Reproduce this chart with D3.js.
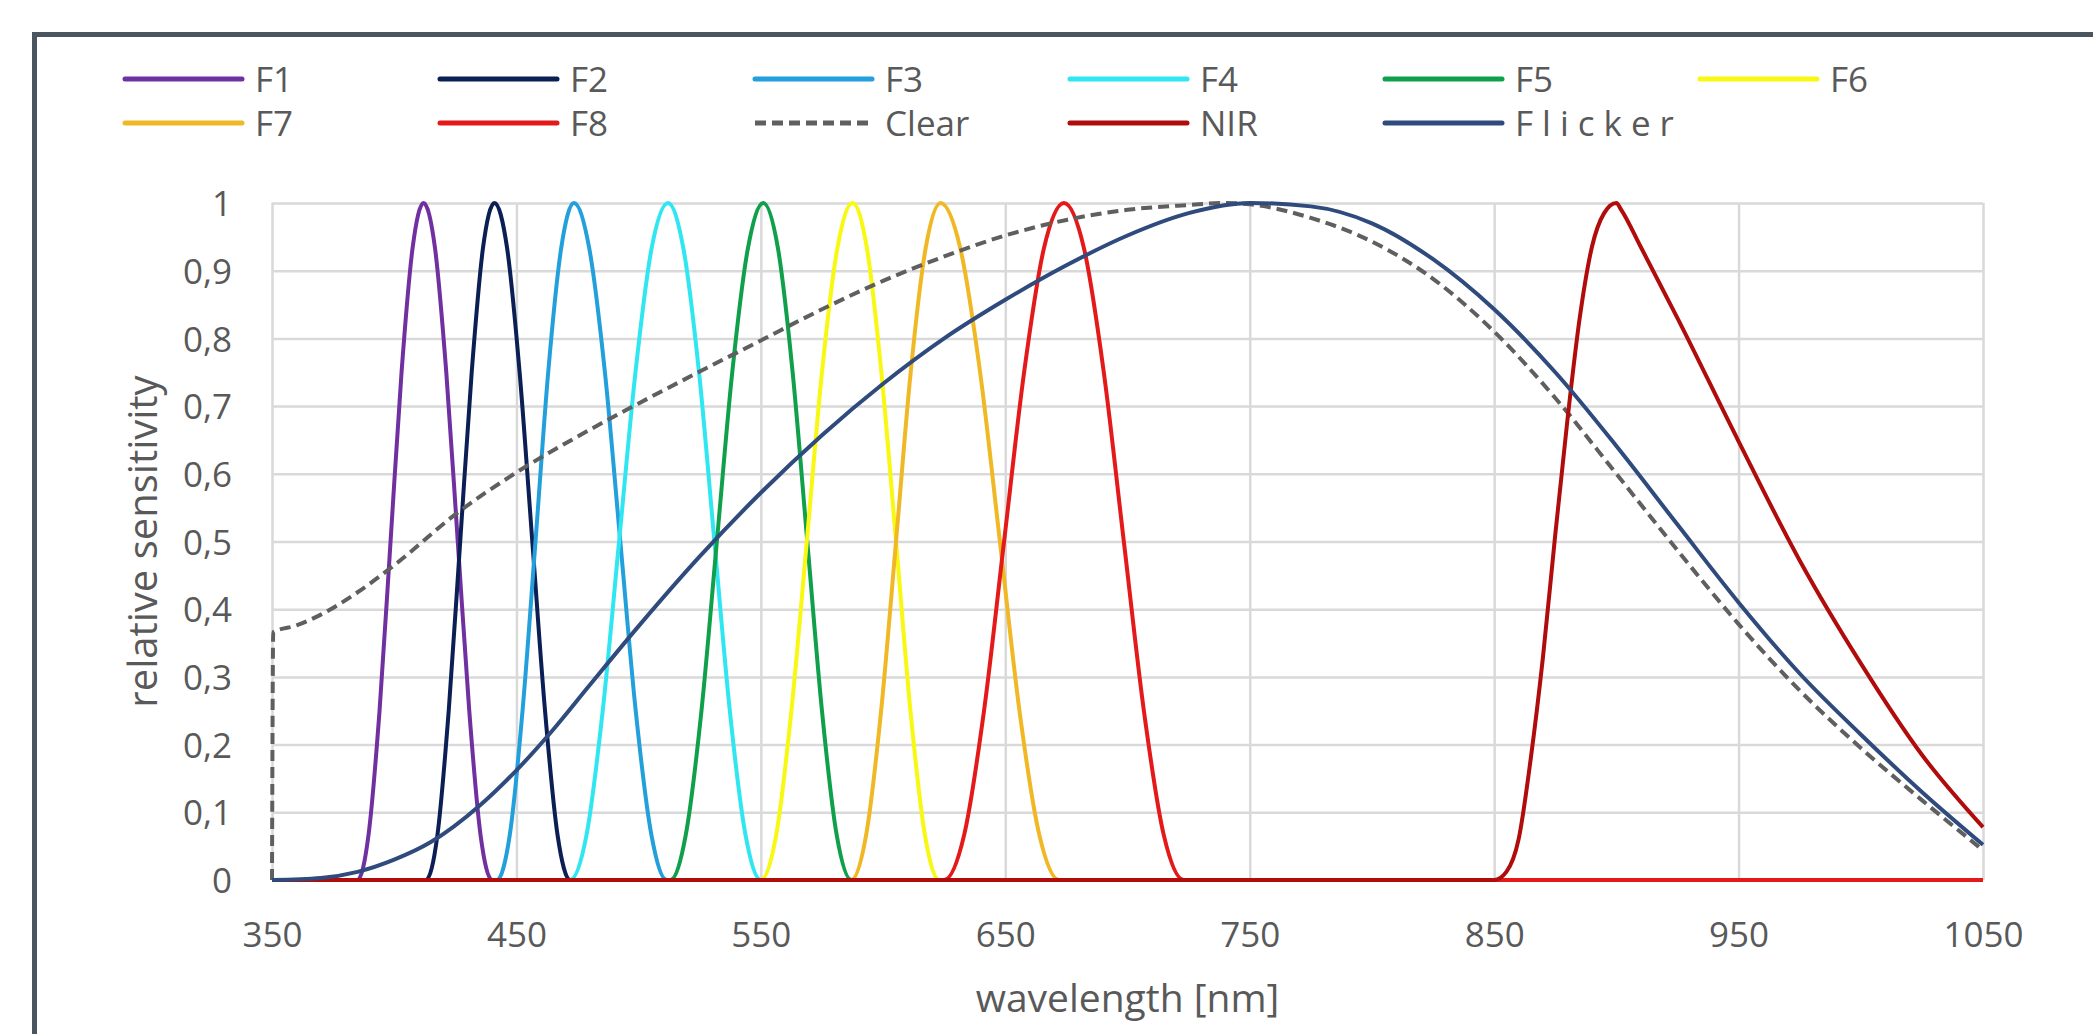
<!DOCTYPE html>
<html>
<head>
<meta charset="utf-8">
<script src="https://cdn.jsdelivr.net/npm/d3@7"></script>
<style>
	body { margin: 0; background: #ffffff; }
</style>
</head>
<body>
<div id="demo"></div>
<script>

	// 目盛りのデータ
	var xTicks = [350, 450, 550, 650, 750, 850, 950, 1050];
	var xTickLabels = ['350', '450', '550', '650', '750', '850', '950', '1050'];
	var yTicks = [0, 0.1, 0.2, 0.3, 0.4, 0.5, 0.6, 0.7, 0.8, 0.9, 1];
	var yTickLabels = ['0', '0,1', '0,2', '0,3', '0,4', '0,5', '0,6', '0,7', '0,8', '0,9', '1'];

	// 凡例のデータ（描画順）
	var seriesNames = ['F1', 'F2', 'F3', 'F4', 'F5', 'F6', 'F7', 'F8', 'Clear', 'NIR', 'Flicker'];
	var seriesColors = ['#7030a0', '#0b1f55', '#23a0dc', '#30e6f0', '#10a04c', '#f8f812', '#f0b824', '#e41a1a', '#5f5f5f', '#b00c0c', '#2f4a7c'];

	// フィルタ F1〜F8 の波長（左の立ち上がり → ピーク → 右の終わり）
	var f1Wl = [385, 389.5, 394, 398.5, 403, 407.5, 412, 416.7, 421.3, 426, 430.7, 435.3, 440];
	var f2Wl = [413, 417.7, 422.3, 427, 431.7, 436.3, 441, 446.2, 451.3, 456.5, 461.7, 466.8, 472];
	var f3Wl = [442, 447.3, 452.5, 457.8, 463, 468.3, 473.5, 479.8, 486.2, 492.5, 498.8, 505.2, 511.5];
	var f4Wl = [472, 478.7, 485.3, 492, 498.7, 505.3, 512, 518.3, 524.7, 531, 537.3, 543.7, 550];
	var f5Wl = [513, 519.3, 525.7, 532, 538.3, 544.7, 551, 557, 563, 569, 575, 581, 587];
	var f6Wl = [550, 556.3, 562.5, 568.8, 575, 581.3, 587.5, 593.4, 599.3, 605.3, 611.2, 617.1, 623];
	var f7Wl = [587, 593.1, 599.2, 605.3, 611.3, 617.4, 623.5, 631.6, 639.7, 647.8, 655.8, 663.9, 672];
	var f8Wl = [625, 633.2, 641.3, 649.5, 657.7, 665.8, 674, 682.2, 690.3, 698.5, 706.7, 714.8, 723];
	// フィルタの感度（どのフィルタも同じ形）
	var filterVal = [0, 0.067, 0.25, 0.5, 0.75, 0.933, 1, 0.933, 0.75, 0.5, 0.25, 0.067, 0];

	// Clear
	var clearWl = [350, 350.5, 360, 370, 385, 400, 425, 450, 475, 500, 525, 550, 575, 600, 625, 650, 675, 700, 725, 740, 750, 775, 800, 825, 850, 875, 900, 925, 950, 975, 1000, 1025, 1050];
	var clearVal = [0, 0.366, 0.376, 0.392, 0.425, 0.465, 0.54, 0.602, 0.655, 0.704, 0.751, 0.797, 0.843, 0.885, 0.921, 0.952, 0.975, 0.99, 0.997, 1, 0.998, 0.978, 0.943, 0.888, 0.81, 0.712, 0.6, 0.487, 0.378, 0.28, 0.195, 0.118, 0.044];

	// NIR
	var nirWl = [350, 850, 855, 860, 865, 870, 875, 880, 885, 890, 895, 900, 902, 910, 925, 950, 975, 1000, 1025, 1050];
	var nirVal = [0, 0, 0.012, 0.06, 0.18, 0.33, 0.51, 0.68, 0.83, 0.935, 0.985, 1, 0.99, 0.935, 0.83, 0.648, 0.472, 0.32, 0.185, 0.078];

	// Flicker
	var flickerWl = [350, 370, 385, 400, 415, 435, 450, 465, 480, 500, 525, 550, 575, 600, 625, 650, 675, 700, 725, 750, 775, 800, 825, 850, 875, 900, 925, 950, 975, 1000, 1025, 1050];
	var flickerVal = [0, 0.003, 0.012, 0.03, 0.056, 0.11, 0.162, 0.222, 0.288, 0.375, 0.478, 0.572, 0.657, 0.733, 0.8, 0.857, 0.908, 0.952, 0.985, 1, 0.995, 0.97, 0.917, 0.843, 0.75, 0.641, 0.525, 0.41, 0.305, 0.215, 0.13, 0.052];


	// 波長と値の配列を点の配列にする
	function toPoints(wl, val) {
		return wl.map(function(w, i) { return [w, val[i]]; });
	}
	function filterPoints(wl) {
		return [[350, 0]].concat(toPoints(wl, filterVal)).concat([[1050, 0]]);
	}

	var dataset = [
		filterPoints(f1Wl),
		filterPoints(f2Wl),
		filterPoints(f3Wl),
		filterPoints(f4Wl),
		filterPoints(f5Wl),
		filterPoints(f6Wl),
		filterPoints(f7Wl),
		filterPoints(f8Wl),
		toPoints(clearWl, clearVal),
		toPoints(nirWl, nirVal),
		toPoints(flickerWl, flickerVal)
	].map(function(pts, i) {
		return {'name': seriesNames[i], 'color': seriesColors[i], 'points': pts};
	});

	var fontFamily = "'Open Sans', 'Noto Sans', sans-serif";
	var textColor = '#595959';

	// SVGタグを作成する
	var svg = d3.select('#demo').append('svg')
		.attr('width', 2093)
		.attr('height', 1034)
		.style('display', 'block');

	// 外枠（上と左だけ見える）
	svg.append('rect')
		.attr('x', 34.5)
		.attr('y', 34.5)
		.attr('width', 2300)
		.attr('height', 1200)
		.attr('fill', 'none')
		.attr('stroke', '#4b5560')
		.attr('stroke-width', 5)
		;

	// スケール
	var x = d3.scaleLinear().domain([350, 1050]).range([272, 1983]);
	var y = d3.scaleLinear().domain([0, 1]).range([880, 203]);

	// グリッド線
	svg.append('g')
		.attr('transform', 'translate(0,880)')
		.call(d3.axisBottom(x).tickValues(xTicks).tickSize(-(880 - 203)).tickFormat(''))
		.call(function(g) { g.select('.domain').remove(); })
		.selectAll('line')
		.attr('stroke', '#d9d9d9')
		.attr('stroke-width', 2.5)
		;
	svg.append('g')
		.attr('transform', 'translate(272,0)')
		.call(d3.axisLeft(y).tickValues(yTicks).tickSize(-(1983 - 272)).tickFormat(''))
		.call(function(g) { g.select('.domain').remove(); })
		.selectAll('line')
		.attr('stroke', '#d9d9d9')
		.attr('stroke-width', 2.5)
		;

	// 軸ラベル
	var xAxis = svg.append('g')
		.attr('transform', 'translate(0,880)')
		.call(d3.axisBottom(x).tickValues(xTicks).tickSize(0).tickPadding(42)
			.tickFormat(function(d, i) { return xTickLabels[i]; }));
	var yAxis = svg.append('g')
		.attr('transform', 'translate(272,0)')
		.call(d3.axisLeft(y).tickValues(yTicks).tickSize(0).tickPadding(40)
			.tickFormat(function(d, i) { return yTickLabels[i]; }));
	[xAxis, yAxis].forEach(function(ax) {
		ax.select('.domain').remove();
		ax.attr('font-family', fontFamily)
			.attr('font-size', 35)
			.attr('color', textColor);
	});
	yAxis.selectAll('text').attr('dy', '0.36em');

	// 軸タイトル
	svg.append('text')
		.attr('x', (272 + 1983) / 2)
		.attr('y', 1012)
		.attr('text-anchor', 'middle')
		.attr('font-family', fontFamily)
		.attr('font-size', 39)
		.attr('fill', textColor)
		.text('wavelength [nm]');
	svg.append('text')
		.attr('transform', 'translate(157,' + (203 + 880) / 2 + ') rotate(-90)')
		.attr('text-anchor', 'middle')
		.attr('font-family', fontFamily)
		.attr('font-size', 40)
		.attr('fill', textColor)
		.text('relative sensitivity');

	// line変換関数
	var lineArrToD = d3.line()
		.curve(d3.curveMonotoneX)
		.x(function(d) { return x(d[0]); })
		.y(function(d) { return y(d[1]); });

	// 線（path）を追加する
	svg.selectAll('.series')
		.data(dataset)
		.enter()
		.append('path')
		.attr('class', 'series')
		.attr('d', function(d, i) { return lineArrToD(d.points); })
		.attr('stroke', function(d, i) { return d.color; })
		.attr('stroke-width', 4)
		.attr('stroke-dasharray', function(d, i) { return d.name === 'Clear' ? '11,6' : null; })
		.attr('stroke-linejoin', 'round')
		.attr('fill', 'none')
		;

	// 凡例
	var legend = svg.selectAll('.legend')
		.data(dataset)
		.enter()
		.append('g')
		.attr('class', 'legend')
		.attr('transform', function(d, i) {
			return 'translate(' + (125 + (i % 6) * 315) + ',' + (79 + Math.floor(i / 6) * 44) + ')';
		});

	legend.append('line')
		.attr('x1', 0)
		.attr('x2', 117)
		.attr('stroke', function(d, i) { return d.color; })
		.attr('stroke-width', 5)
		.attr('stroke-linecap', function(d, i) { return d.name === 'Clear' ? 'butt' : 'round'; })
		.attr('stroke-dasharray', function(d, i) { return d.name === 'Clear' ? '11,6' : null; })
		;

	legend.append('text')
		.attr('x', 130)
		.attr('dy', '0.36em')
		.attr('font-family', fontFamily)
		.attr('font-size', 35)
		.attr('fill', textColor)
		.attr('letter-spacing', function(d, i) { return d.name === 'Flicker' ? 9 : 0; })
		.text(function(d, i) { return d.name; })
		;

</script>
</body>
</html>
